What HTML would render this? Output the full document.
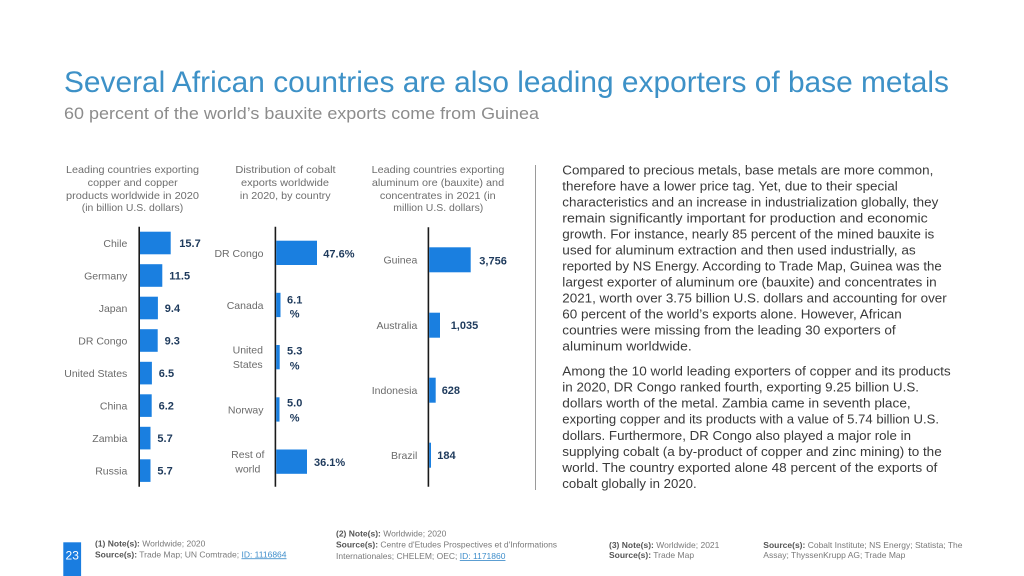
<!DOCTYPE html>
<html>
<head>
<meta charset="utf-8">
<style>
html,body{margin:0;padding:0;background:#fff;}
svg{display:block;}
text{font-family:"Liberation Sans",Arial,sans-serif;}
.h{fill:#6e6e6e;font-size:10.5px;}
.lab{fill:#6b6b6b;font-size:10.5px;}
.val{fill:#1e3a5c;font-size:11px;font-weight:bold;}
.p{fill:#3a3a3a;font-size:12.5px;}
.f{fill:#7a7a7a;font-size:8.5px;}
.fb{fill:#555;font-weight:bold;}
.lnk{fill:#3f8ecb;text-decoration:underline;}
.bar{fill:#1a7fe0;}
</style>
</head>
<body>
<svg width="1024" height="576" viewBox="0 0 1024 576" xmlns="http://www.w3.org/2000/svg">
<rect width="1024" height="576" fill="#fff"/>

<!-- Title -->
<text x="64" y="92" font-size="30" fill="#3d91c7" textLength="885" lengthAdjust="spacingAndGlyphs">Several African countries are also leading exporters of base metals</text>
<text x="64" y="119" font-size="17" fill="#8c8c8c" textLength="475" lengthAdjust="spacingAndGlyphs">60 percent of the world’s bauxite exports come from Guinea</text>

<!-- Chart headings -->
<g class="h" text-anchor="middle">
<text x="132.5" y="173" textLength="133" lengthAdjust="spacingAndGlyphs">Leading countries exporting</text>
<text x="132.7" y="186" textLength="90" lengthAdjust="spacingAndGlyphs">copper and copper</text>
<text x="132.5" y="199" textLength="133" lengthAdjust="spacingAndGlyphs">products worldwide in 2020</text>
<text x="132.5" y="211" textLength="101.5" lengthAdjust="spacingAndGlyphs">(in billion U.S. dollars)</text>

<text x="285.5" y="173" textLength="100.3" lengthAdjust="spacingAndGlyphs">Distribution of cobalt</text>
<text x="285" y="186" textLength="88" lengthAdjust="spacingAndGlyphs">exports worldwide</text>
<text x="285.3" y="199" textLength="90.7" lengthAdjust="spacingAndGlyphs">in 2020, by country</text>

<text x="438" y="173" textLength="132.7" lengthAdjust="spacingAndGlyphs">Leading countries exporting</text>
<text x="438" y="186" textLength="132.3" lengthAdjust="spacingAndGlyphs">aluminum ore (bauxite) and</text>
<text x="437.8" y="199" textLength="115.7" lengthAdjust="spacingAndGlyphs">concentrates in 2021 (in</text>
<text x="438.3" y="211" textLength="90" lengthAdjust="spacingAndGlyphs">million U.S. dollars)</text>
</g>

<!-- Chart 1: copper -->
<line x1="139.2" y1="226.7" x2="139.2" y2="486.7" stroke="#1a1a1a" stroke-width="1.6"/>
<g>
<rect class="bar" x="140" y="231.7" width="30.7" height="22.6"/>
<rect class="bar" x="140" y="264.2" width="22.3" height="22.6"/>
<rect class="bar" x="140" y="296.7" width="17.9" height="22.6"/>
<rect class="bar" x="140" y="329.2" width="17.7" height="22.6"/>
<rect class="bar" x="140" y="361.8" width="11.9" height="22.6"/>
<rect class="bar" x="140" y="394.3" width="11.7" height="22.6"/>
<rect class="bar" x="140" y="426.8" width="10.5" height="22.6"/>
<rect class="bar" x="140" y="459.3" width="10.5" height="22.6"/>
</g>
<g class="lab" text-anchor="end">
<text x="127.3" y="247">Chile</text>
<text x="127.3" y="279.5">Germany</text>
<text x="127.3" y="312">Japan</text>
<text x="127.3" y="344.5">DR Congo</text>
<text x="127.3" y="377">United States</text>
<text x="127.3" y="409.5">China</text>
<text x="127.3" y="442">Zambia</text>
<text x="127.3" y="474.5">Russia</text>
</g>
<g class="val">
<text x="179.3" y="247.2">15.7</text>
<text x="169.3" y="279.7">11.5</text>
<text x="164.8" y="312.2">9.4</text>
<text x="164.6" y="344.7">9.3</text>
<text x="158.8" y="377.2">6.5</text>
<text x="158.6" y="409.7">6.2</text>
<text x="157.4" y="442.2">5.7</text>
<text x="157.4" y="474.7">5.7</text>
</g>

<!-- Chart 2: cobalt -->
<line x1="275.4" y1="226.7" x2="275.4" y2="486.7" stroke="#1a1a1a" stroke-width="1.6"/>
<g>
<rect class="bar" x="276.2" y="240.7" width="40.8" height="24.3"/>
<rect class="bar" x="276.2" y="292.8" width="4.3" height="24.3"/>
<rect class="bar" x="276.2" y="345" width="3.5" height="24.3"/>
<rect class="bar" x="276.2" y="397.3" width="3.3" height="24.3"/>
<rect class="bar" x="276.2" y="449.5" width="30.8" height="24.3"/>
</g>
<g class="lab">
<text x="263.5" y="257" text-anchor="end">DR Congo</text>
<text x="263.5" y="309" text-anchor="end">Canada</text>
<text x="247.8" y="353.3" text-anchor="middle">United</text>
<text x="247.8" y="368" text-anchor="middle">States</text>
<text x="263.5" y="413.3" text-anchor="end">Norway</text>
<text x="247.8" y="458" text-anchor="middle">Rest of</text>
<text x="247.8" y="472.3" text-anchor="middle">world</text>
</g>
<g class="val">
<text x="323.3" y="257.3">47.6%</text>
<text x="294.7" y="303.3" text-anchor="middle">6.1</text>
<text x="294.7" y="317.3" text-anchor="middle">%</text>
<text x="294.7" y="354.7" text-anchor="middle">5.3</text>
<text x="294.7" y="369.7" text-anchor="middle">%</text>
<text x="294.7" y="406.7" text-anchor="middle">5.0</text>
<text x="294.7" y="421.3" text-anchor="middle">%</text>
<text x="314" y="466">36.1%</text>
</g>

<!-- Chart 3: bauxite -->
<line x1="428.4" y1="227.3" x2="428.4" y2="486.7" stroke="#1a1a1a" stroke-width="1.6"/>
<g>
<rect class="bar" x="429.2" y="247.3" width="41.5" height="25"/>
<rect class="bar" x="429.2" y="312.7" width="10.8" height="25"/>
<rect class="bar" x="429.2" y="377.7" width="6.5" height="25"/>
<rect class="bar" x="429.2" y="442.7" width="1.8" height="25"/>
</g>
<g class="lab" text-anchor="end">
<text x="417.3" y="263.3">Guinea</text>
<text x="417.3" y="328.8">Australia</text>
<text x="417.3" y="393.8">Indonesia</text>
<text x="417.3" y="458.8">Brazil</text>
</g>
<g class="val">
<text x="479.3" y="264.7">3,756</text>
<text x="450.7" y="329">1,035</text>
<text x="441.7" y="394">628</text>
<text x="437.3" y="459">184</text>
</g>

<!-- separator -->
<line x1="535.5" y1="165" x2="535.5" y2="490" stroke="#9a9a9a" stroke-width="1"/>

<!-- Paragraph 1 -->
<g class="p">
<text x="562.3" y="174.4" textLength="371" lengthAdjust="spacingAndGlyphs">Compared to precious metals, base metals are more common,</text>
<text x="562.3" y="190.4" textLength="335.4" lengthAdjust="spacingAndGlyphs">therefore have a lower price tag. Yet, due to their special</text>
<text x="562.3" y="206.4" textLength="376" lengthAdjust="spacingAndGlyphs">characteristics and an increase in industrialization globally, they</text>
<text x="562.3" y="222.4" textLength="365.4" lengthAdjust="spacingAndGlyphs">remain significantly important for production and economic</text>
<text x="562.3" y="238.4" textLength="372" lengthAdjust="spacingAndGlyphs">growth. For instance, nearly 85 percent of the mined bauxite is</text>
<text x="562.3" y="254.4" textLength="353.4" lengthAdjust="spacingAndGlyphs">used for aluminum extraction and then used industrially, as</text>
<text x="562.3" y="270.4" textLength="379.4" lengthAdjust="spacingAndGlyphs">reported by NS Energy. According to Trade Map, Guinea was the</text>
<text x="562.3" y="286.4" textLength="374.4" lengthAdjust="spacingAndGlyphs">largest exporter of aluminum ore (bauxite) and concentrates in</text>
<text x="562.3" y="302.4" textLength="384.4" lengthAdjust="spacingAndGlyphs">2021, worth over 3.75 billion U.S. dollars and accounting for over</text>
<text x="562.3" y="318.4" textLength="339.4" lengthAdjust="spacingAndGlyphs">60 percent of the world’s exports alone. However, African</text>
<text x="562.3" y="334.4" textLength="333.4" lengthAdjust="spacingAndGlyphs">countries were missing from the leading 30 exporters of</text>
<text x="562.3" y="350.4" textLength="129.4" lengthAdjust="spacingAndGlyphs">aluminum worldwide.</text>
</g>

<!-- Paragraph 2 -->
<g class="p">
<text x="562.3" y="375.4" textLength="388.4" lengthAdjust="spacingAndGlyphs">Among the 10 world leading exporters of copper and its products</text>
<text x="562.3" y="391.5" textLength="356.7" lengthAdjust="spacingAndGlyphs">in 2020, DR Congo ranked fourth, exporting 9.25 billion U.S.</text>
<text x="562.3" y="407.6" textLength="348.4" lengthAdjust="spacingAndGlyphs">dollars worth of the metal. Zambia came in seventh place,</text>
<text x="562.3" y="423.7" textLength="376.7" lengthAdjust="spacingAndGlyphs">exporting copper and its products with a value of 5.74 billion U.S.</text>
<text x="562.3" y="439.8" textLength="348.7" lengthAdjust="spacingAndGlyphs">dollars. Furthermore, DR Congo also played a major role in</text>
<text x="562.3" y="455.9" textLength="379.4" lengthAdjust="spacingAndGlyphs">supplying cobalt (a by-product of copper and zinc mining) to the</text>
<text x="562.3" y="472" textLength="375" lengthAdjust="spacingAndGlyphs">world. The country exported alone 48 percent of the exports of</text>
<text x="562.3" y="488.1" textLength="134.4" lengthAdjust="spacingAndGlyphs">cobalt globally in 2020.</text>
</g>

<!-- Footer -->
<rect x="63.3" y="542.3" width="17.8" height="34" fill="#1a7de0"/>
<text x="72.2" y="559.5" font-size="12" fill="#fff" text-anchor="middle">23</text>

<g class="f">
<text x="95" y="546.3"><tspan class="fb">(1) Note(s):</tspan> Worldwide; 2020</text>
<text x="95" y="557.3"><tspan class="fb">Source(s):</tspan> Trade Map; UN Comtrade; <tspan class="lnk">ID: 1116864</tspan></text>

<text x="336" y="536.3"><tspan class="fb">(2) Note(s):</tspan> Worldwide; 2020</text>
<text x="336" y="547.3"><tspan class="fb">Source(s):</tspan> Centre d'Etudes Prospectives et d'Informations</text>
<text x="336" y="559">Internationales; CHELEM; OEC; <tspan class="lnk">ID: 1171860</tspan></text>

<text x="609" y="548"><tspan class="fb">(3) Note(s):</tspan> Worldwide; 2021</text>
<text x="609" y="558"><tspan class="fb">Source(s):</tspan> Trade Map</text>

<text x="763.3" y="548"><tspan class="fb">Source(s):</tspan> Cobalt Institute; NS Energy; Statista; The</text>
<text x="763.3" y="558">Assay; ThyssenKrupp AG; Trade Map</text>
</g>
</svg>
</body>
</html>
